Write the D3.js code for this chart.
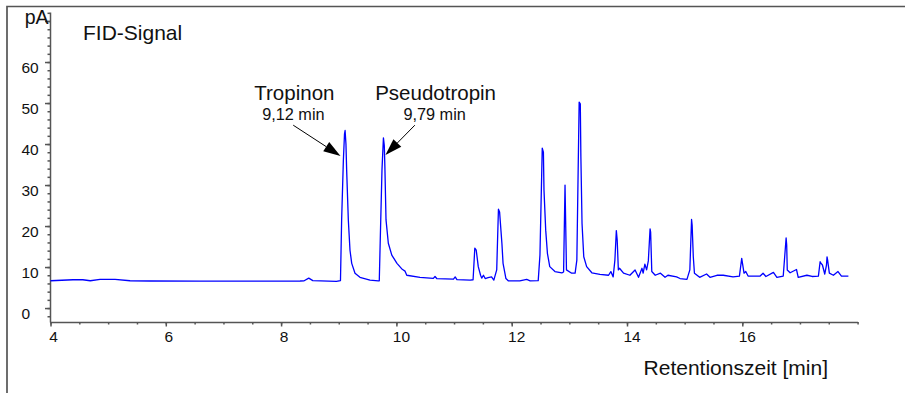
<!doctype html>
<html lang="de">
	<head>
		<meta charset="utf-8">
		<title>FID-Signal Chromatogramm</title>
		<style>
			body { margin: 0; background: #fff; }
			text { font-family: "Liberation Sans", Arial, sans-serif; fill: #111; }
			.axis path, .axis line { stroke: #555; stroke-width: 1.5; }
		</style>
	</head>
	<body>
		<div id="chart"></div>

		<script src="https://cdn.jsdelivr.net/npm/d3@7/dist/d3.min.js"></script>
		<script>
			// retention time [min] and signal [pA]
			var times = [4.00, 4.39, 4.56, 4.69, 4.86, 5.12, 5.38, 5.73, 6.59, 7.46, 8.33, 8.40, 8.48, 8.55, 8.96,
				9.03, 9.05, 9.08, 9.10, 9.11, 9.125, 9.137, 9.166, 9.195, 9.225, 9.282, 9.368, 9.542, 9.686,
				9.703, 9.724, 9.75, 9.775, 9.79, 9.80, 9.82, 9.86, 9.92, 10.01, 10.09, 10.12, 10.15, 10.18,
				10.41, 10.64, 10.67, 10.70, 10.99, 11.02, 11.05, 11.28,
				11.33, 11.36, 11.385, 11.42, 11.46, 11.48, 11.51, 11.54, 11.59, 11.65, 11.69,
				11.74, 11.77, 11.79, 11.83, 11.85, 11.90, 11.94, 12.14, 12.26, 12.32, 12.46,
				12.49, 12.53, 12.55, 12.56, 12.59, 12.62, 12.66, 12.75, 12.87, 12.90,
				12.925, 12.95, 13.04, 13.10, 13.13, 13.17, 13.19, 13.20, 13.22, 13.25, 13.30, 13.39, 13.53, 13.68, 13.72, 13.76,
				13.79, 13.815, 13.83, 13.85, 13.87, 13.94, 14.05, 14.14, 14.20, 14.26, 14.28, 14.31, 14.34, 14.37,
				14.40, 14.41, 14.43, 14.49, 14.58, 14.66, 14.71, 14.86, 14.92, 15.04,
				15.09, 15.12, 15.13, 15.15, 15.17, 15.26, 15.38, 15.44, 15.56, 15.67, 15.84, 15.95,
				15.99, 16.00, 16.03, 16.06, 16.10, 16.31, 16.36, 16.41, 16.54, 16.60, 16.71,
				16.76, 16.77, 16.78, 16.83, 16.94, 16.97, 17.12, 17.21, 17.32,
				17.35, 17.36, 17.39, 17.43, 17.46, 17.47, 17.48, 17.51, 17.58, 17.66, 17.72, 17.84];
			var signal = [6.66, 6.90, 6.90, 6.66, 7.00, 7.00, 6.66, 6.60, 6.55, 6.55, 6.60, 6.65, 7.30, 6.70, 6.50,
				6.70, 21.5, 36.0, 42.5, 43.3, 40.0, 33.7, 21.5, 14.1, 10.9, 8.5, 7.5, 6.8, 6.65,
				6.65, 19.0, 33.7, 41.5, 39.6, 34.5, 21.5, 15.8, 12.9, 10.9, 9.6, 9.3, 9.0, 8.0,
				7.5, 7.25, 7.7, 7.2, 7.05, 7.6, 6.95, 6.8,
				6.9, 14.6, 14.1, 10.1, 8.0, 7.3, 8.0, 7.2, 7.4, 7.6, 6.8,
				9.3, 24.1, 23.4, 15.8, 10.9, 7.2, 6.65, 6.65, 7.0, 6.65, 6.7,
				12.9, 39.0, 38.0, 28.8, 19.0, 13.3, 10.1, 8.9, 8.6, 8.8,
				30.0, 9.3, 8.5, 8.5, 11.7, 50.2, 49.8, 36.9, 20.6, 12.5, 10.1, 8.6, 8.2, 8.0, 8.9, 7.6,
				11.7, 18.9, 16.6, 9.3, 9.7, 8.5, 8.0, 9.3, 7.5, 9.7, 8.5, 10.7, 9.3, 11.5,
				19.3, 18.5, 8.9, 8.0, 8.5, 7.5, 8.0, 7.6, 7.2, 7.0,
				9.3, 21.6, 20.2, 12.5, 8.5, 7.5, 8.3, 7.5, 8.0, 8.0, 7.6, 7.8,
				12.1, 11.2, 8.5, 8.9, 7.8, 7.8, 8.5, 7.7, 8.7, 7.5, 7.8,
				17.1, 15.4, 9.3, 8.6, 9.4, 7.5, 8.0, 7.7, 7.8,
				11.3, 11.0, 10.5, 8.3, 10.5, 12.5, 11.7, 8.5, 8.0, 8.9, 7.8, 7.8];

			var xTickLabels = [4, 6, 8, 10, 12, 14, 16];
			var yTickLabels = [0, 10, 20, 30, 40, 50, 60];
			var peakNames = ["Tropinon", "Pseudotropin"];
			var peakTimes = ["9,12 min", "9,79 min"];

			// arrow tail / tip and label anchor in data units
			var arrows = [
				{ tail: [8.21, 44.6], tip: [9.03, 37.1], label: 8.23 },
				{ tail: [10.32, 44.6], tip: [9.81, 37.3], label: 10.68 }
			];

			var width = 905, height = 393;
			var svg = d3.select("#chart").append("svg")
				.attr("width", width)
				.attr("height", height);

			// outer frame (only left and top edges fall inside the picture)
			svg.append("path")
				.attr("d", "M7,393V6.5H905")
				.attr("fill", "none")
				.attr("stroke", "#555")
				.attr("stroke-width", 1.7);

			var x = d3.scaleLinear().domain([4, 18]).range([50.5, 857.6]);
			var y = d3.scaleLinear().domain([-3.4, 72.2]).range([322, 12]);

			// X axis: minor every 0.5, labels every 2
			svg.append("g")
				.attr("class", "axis")
				.attr("transform", "translate(0,322)")
				.call(d3.axisBottom(x).tickValues(d3.range(4, 18.01, 0.5)).tickSize(2.5).tickSizeOuter(0).tickFormat(""));
			var xMajor = svg.append("g")
				.attr("class", "axis")
				.attr("transform", "translate(0,322)")
				.call(d3.axisBottom(x).tickValues(xTickLabels).tickSize(4.5).tickFormat(d3.format("d")));
			xMajor.select(".domain").remove();
			xMajor.selectAll("text")
				.attr("y", 20).attr("dy", 0)
				.attr("dx", function(d) { return d >= 10 ? 4.5 : 2.5; })
				.style("font-size", "15.5px");

			// Y axis: minor every 2, labels every 10
			svg.append("g")
				.attr("class", "axis")
				.attr("transform", "translate(50,0)")
				.call(d3.axisLeft(y).tickValues(d3.range(-2, 72.1, 2)).tickSize(2.5).tickSizeOuter(0).tickFormat(""));
			var yMajor = svg.append("g")
				.attr("class", "axis")
				.attr("transform", "translate(50,0)")
				.call(d3.axisLeft(y).tickValues([0, 10, 20, 30, 40, 50, 60, 70]).tickSize(5)
					.tickFormat(function(d) { return yTickLabels.indexOf(d) >= 0 ? d : ""; }));
			yMajor.select(".domain").remove();
			yMajor.selectAll("text")
				.attr("x", -28.5).attr("y", 10.8).attr("dy", 0)
				.attr("text-anchor", "start")
				.style("font-size", "15.5px");

			svg.append("text")
				.attr("x", 48.5).attr("y", 24)
				.attr("text-anchor", "end")
				.style("font-size", "19.5px")
				.text("pA");

			svg.append("text")
				.attr("x", 83).attr("y", 39.5)
				.style("font-size", "21px")
				.text("FID-Signal");

			svg.append("text")
				.attr("x", 828).attr("y", 375)
				.attr("text-anchor", "end")
				.style("font-size", "21px")
				.text("Retentionszeit [min]");

			// chromatogram trace
			var line = d3.line()
				.x(function(d, i) { return x(times[i]); })
				.y(function(d) { return y(d); });
			svg.append("path")
				.datum(signal)
				.attr("fill", "none")
				.attr("stroke", "#0000ff")
				.attr("stroke-width", 1.3)
				.attr("stroke-linejoin", "round")
				.attr("d", line);

			// peak annotations
			arrows.forEach(function(a, i) {
				var x0 = x(a.tail[0]), y0 = y(a.tail[1]),
					x1 = x(a.tip[0]), y1 = y(a.tip[1]);
				var ang = Math.atan2(y1 - y0, x1 - x0),
					len = 17, hw = 5.5;
				var bx = x1 - len * Math.cos(ang), by = y1 - len * Math.sin(ang);
				svg.append("line")
					.attr("x1", x0).attr("y1", y0)
					.attr("x2", bx).attr("y2", by)
					.attr("stroke", "#000").attr("stroke-width", 1);
				svg.append("path")
					.attr("d", "M" + x1 + "," + y1 +
						"L" + (bx + hw * Math.sin(ang)) + "," + (by - hw * Math.cos(ang)) +
						"L" + (bx - hw * Math.sin(ang)) + "," + (by + hw * Math.cos(ang)) + "Z")
					.attr("fill", "#000");
				svg.append("text")
					.attr("x", x(a.label)).attr("y", 99.5)
					.attr("text-anchor", "middle")
					.style("font-size", "20.5px")
					.text(peakNames[i]);
				svg.append("text")
					.attr("x", x(a.label) - 1).attr("y", 120)
					.attr("text-anchor", "middle")
					.style("font-size", "16.3px")
					.text(peakTimes[i]);
			});
		</script>
	</body>
</html>
